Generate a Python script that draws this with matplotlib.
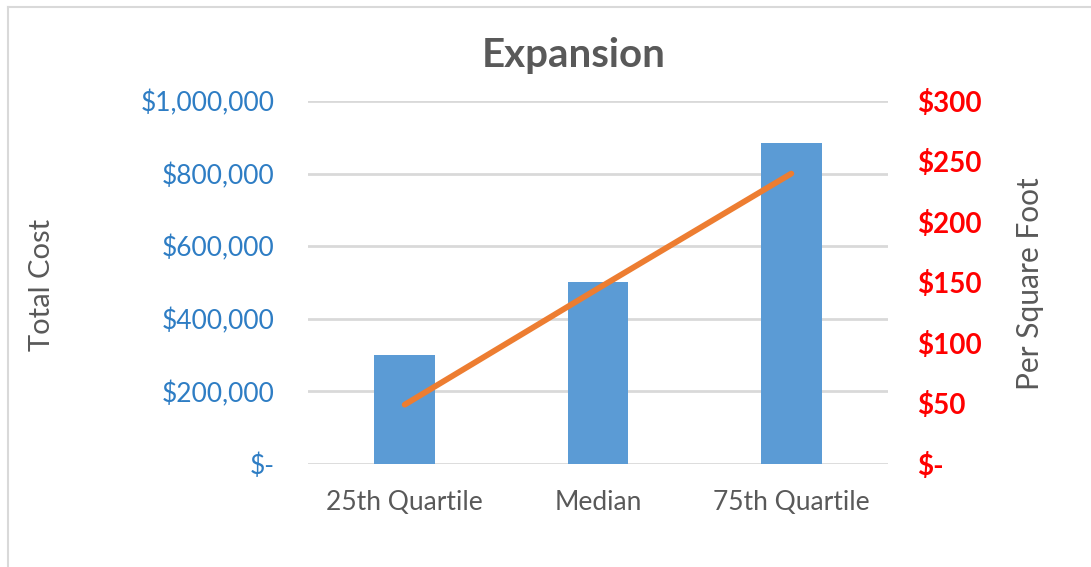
import matplotlib.pyplot as plt
from matplotlib.ticker import FuncFormatter
from matplotlib.lines import Line2D

# data
categories = ['25th Quartile', 'Median', '75th Quartile']
total_cost = [300000, 500000, 885000]
per_sqft = [49, 145, 240]

BLUE = '#5B9BD5'
ORANGE = '#ED7D31'
GRAY = '#595959'
plt.rcParams['font.family'] = ['Lato', 'DejaVu Sans']


def money_fmt(v, pos):
    return '$-' if v == 0 else '${:,.0f}'.format(v)


fig = plt.figure(figsize=(10.91, 5.67), dpi=100)
ax = fig.add_axes([0.2823, 0.1817, 0.5316, 0.6402])

x = list(range(len(categories)))
ax.bar(x, total_cost, width=0.315, color=BLUE, zorder=3)
ax.set_xlim(-0.5, 2.5)
ax.set_ylim(0, 1000000)
ax.set_yticks(range(0, 1000001, 200000))
ax.yaxis.set_major_formatter(FuncFormatter(money_fmt))
ax.grid(axis='y', color='#D9D9D9', linewidth=2.0, zorder=0)
ax.set_xticks(x)
ax.set_xticklabels(categories, fontsize=19, color=GRAY)
ax.tick_params(axis='x', length=0, pad=19)
ax.tick_params(axis='y', length=0, pad=24, labelsize=19, labelcolor='#2E7DC4')
for s in ax.spines.values():
    s.set_visible(False)

ax2 = ax.twinx()
ax2.plot(x, per_sqft, color=ORANGE, linewidth=4.2, solid_capstyle='round', zorder=4)
ax2.set_ylim(0, 300)
ax2.set_yticks(range(0, 301, 50))
ax2.yaxis.set_major_formatter(FuncFormatter(money_fmt))
ax2.tick_params(axis='y', length=0, pad=21, labelsize=20, labelcolor='#FF0000')
for lbl in ax2.get_yticklabels():
    lbl.set_fontweight('bold')
for s in ax2.spines.values():
    s.set_visible(False)

fig.text(42 / 1091, 1 - 285 / 567, 'Total Cost', rotation=90, ha='center', va='center',
         fontsize=21, color=GRAY)
fig.text(1030 / 1091, 1 - 284 / 567, 'Per Square Foot', rotation=90, ha='center', va='center',
         fontsize=21.5, color=GRAY)
fig.text(574 / 1091, 1 - 55 / 567, 'Expansion', ha='center', va='center', fontsize=29,
         fontweight='bold', color=GRAY)

# chart border (cropped at right/bottom)
fig.add_artist(Line2D([8 / 1091, 1], [1 - 7 / 567, 1 - 7 / 567], color='#D9D9D9', linewidth=1.5))
fig.add_artist(Line2D([8 / 1091, 8 / 1091], [0, 1 - 7 / 567], color='#D9D9D9', linewidth=1.5))

fig.savefig('out.png', dpi=100, facecolor='white')
